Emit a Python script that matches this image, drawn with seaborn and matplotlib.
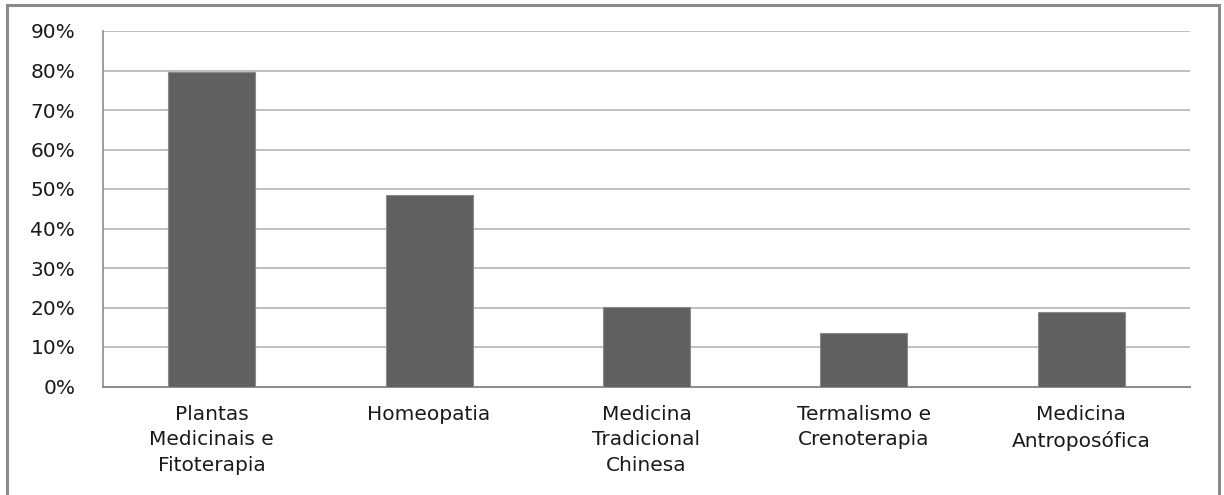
import matplotlib
matplotlib.use("Agg")
import matplotlib.pyplot as plt
from matplotlib.patches import Rectangle
from matplotlib.ticker import PercentFormatter
import seaborn as sns
import pandas as pd

categories = [
    "Plantas\nMedicinais e\nFitoterapia",
    "Homeopatia",
    "Medicina\nTradicional\nChinesa",
    "Termalismo e\nCrenoterapia",
    "Medicina\nAntroposófica",
]
values = [79.5, 48.4, 20.2, 13.5, 18.8]
y_ticks = [0, 10, 20, 30, 40, 50, 60, 70, 80, 90]

sns.set_theme(style="white")
plt.rcParams["font.family"] = ["DejaVu Sans"]

df = pd.DataFrame({"pratica": categories, "pct": values})

fig = plt.figure(figsize=(12.24, 4.95), dpi=100)
ax = fig.add_axes([103 / 1224, 108.5 / 495, (1190 - 103) / 1224, (386.5 - 31) / 495])

sns.barplot(data=df, x="pratica", y="pct", order=categories, color="#606060",
            saturation=1, width=0.4, edgecolor="#8a8a8a", linewidth=0.8,
            ax=ax, zorder=3)

ax.set_xlim(-0.5, len(categories) - 0.5)
ax.set_ylim(0, 90)
ax.set_yticks(y_ticks)
ax.yaxis.set_major_formatter(PercentFormatter(decimals=0))
ax.grid(axis="y", color="#b4b4b4", linewidth=1.2, zorder=0)
ax.grid(axis="x", visible=False)
ax.set_axisbelow(True)

for side in ("top", "right"):
    ax.spines[side].set_visible(False)
ax.spines["left"].set_color("#8c8c8c")
ax.spines["left"].set_linewidth(1.2)
ax.spines["bottom"].set_color("#8c8c8c")
ax.spines["bottom"].set_linewidth(1.4)

ax.set_xlabel("")
ax.set_ylabel("")
ax.tick_params(axis="y", length=0, pad=20, labelsize=14.5, labelcolor="#1a1a1a")
ax.tick_params(axis="x", length=0, pad=13, labelsize=14.5, labelcolor="#1a1a1a")
for lbl in ax.get_xticklabels():
    lbl.set_linespacing(1.45)
    lbl.set_verticalalignment("top")

# outer chart frame (bottom edge falls outside the canvas)
fig.patches.append(Rectangle((7 / 1224, -0.05), (1219 - 7) / 1224, (495 - 5) / 495 + 0.05,
                             transform=fig.transFigure, fill=False,
                             edgecolor="#8a8a8a", linewidth=2.2))

fig.savefig("out.png", dpi=100, facecolor="white")
